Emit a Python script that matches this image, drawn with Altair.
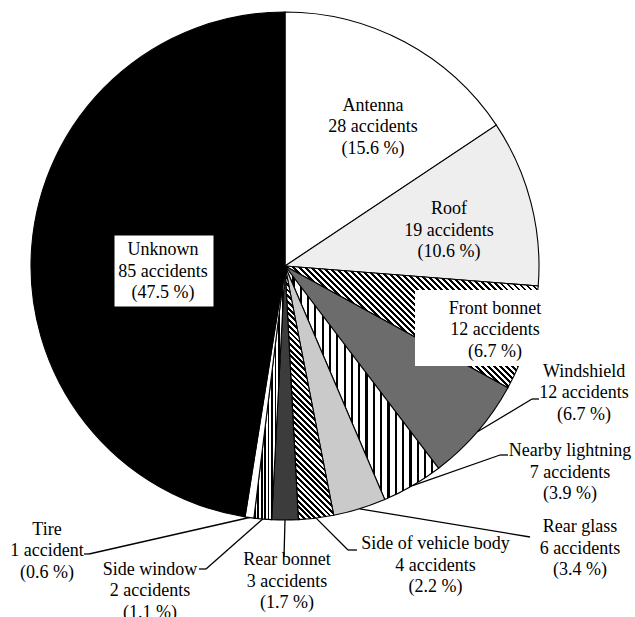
import math
import altair as alt
import pandas as pd

# ---------------- data ----------------
names = ["Antenna", "Roof", "Front bonnet", "Windshield", "Nearby lightning",
         "Rear glass", "Side of vehicle body", "Rear bonnet", "Side window",
         "Tire", "Unknown"]
counts = [28, 19, 12, 12, 7, 6, 4, 3, 2, 1, 85]

# ---------------- layout (annotation positions, px) ----------------
W, H = 635, 617
CX, CY, R = 285, 266, 254
LINE_H = 21.5
label_x = [373, 449, 495, 584, 570, 580, 435.5, 287, 150, 47, 163]
label_y = [105.5, 209, 308.5, 371.5, 451, 527, 544, 560, 569.5, 529.5, 250]  # first line
elbow_x = [None, None, None, 532, 500, 530, 348, 284, 206, 89, None]
elbow_y = [None, None, None, 399, 455, 537, 550, 557, 569, 554, None]
tick_x = [None, None, None, 539, 508, None, 357, None, 199, 84, None]
box_x0 = [None, None, 415, None, None, None, None, None, None, None, 114]
box_x1 = [None, None, 541, None, None, None, None, None, None, None, 214]
box_y0 = [None, None, 290, None, None, None, None, None, None, None, 235]
box_y1 = [None, None, 366, None, None, None, None, None, None, None, 307]

total = sum(counts)
labels = []
for n, c in zip(names, counts):
    unit = "accident" if c == 1 else "accidents"
    labels.append(f"{n}\n{c} {unit}\n({100 * c / total:.1f} %)")

df = pd.DataFrame({
    "idx": list(range(len(names))), "name": names, "count": counts,
    "label": labels, "lx": label_x, "ly": label_y,
    "ex": elbow_x, "ey": elbow_y, "tx": tick_x,
    "bx0": box_x0, "bx1": box_x1, "by0": box_y0, "by1": box_y1,
})


# ---------------- fill styles (stripe gradients) ----------------
def stripes(a0, a1, normal, period, duty, ink="black", paper="white"):
    pts = [(CX, CY)]
    for i in range(121):
        a = a0 + (a1 - a0) * i / 120
        pts.append((CX + R * math.sin(a), CY - R * math.cos(a)))
    xs_ = [p[0] for p in pts]
    ys_ = [p[1] for p in pts]
    x0, y0 = min(xs_), min(ys_)
    w = max(max(xs_) - x0, 1e-6)
    h = max(max(ys_) - y0, 1e-6)
    nx, ny = normal
    L = math.hypot(nx, ny)
    nx, ny = nx / L, ny / L
    fs = [nx * x + ny * y for x, y in pts]
    fmin, fmax = min(fs), max(fs)
    f0 = nx * x0 + ny * y0
    G = (nx * w, ny * h)
    G2 = G[0] ** 2 + G[1] ** 2
    lam = (fmin - f0) / G2
    k = (fmax - fmin) / G2
    p1 = (lam * G[0], lam * G[1])
    p2 = (p1[0] + k * G[0], p1[1] + k * G[1])
    n = max(1, round((fmax - fmin) / period))
    stops = []
    for i in range(n):
        a, b, c = i / n, (i + duty) / n, (i + 1) / n
        stops += [{"offset": round(a, 5), "color": ink},
                  {"offset": round(b, 5), "color": ink},
                  {"offset": round(b, 5), "color": paper},
                  {"offset": round(c, 5), "color": paper}]
    return {"gradient": "linear", "x1": round(p1[0], 5), "y1": round(p1[1], 5),
            "x2": round(p2[0], 5), "y2": round(p2[1], 5), "stops": stops}


angles = {}
cum = 0
for n, c in zip(names, counts):
    angles[n] = (2 * math.pi * cum / total, 2 * math.pi * (cum + c) / total)
    cum += c

fills = {
    "Antenna": "white",
    "Roof": "#eeeeee",
    "Front bonnet": stripes(*angles["Front bonnet"], (1, -1), 4.2, 0.45),
    "Windshield": "#6c6c6c",
    "Nearby lightning": stripes(*angles["Nearby lightning"], (1, 0), 7.2, 0.3),
    "Rear glass": "#cacaca",
    "Side of vehicle body": stripes(*angles["Side of vehicle body"], (1, -1), 4.0, 0.5),
    "Rear bonnet": "#3c3c3c",
    "Side window": stripes(*angles["Side window"], (1, 0), 3.3, 0.5),
    "Tire": "white",
}
conds = [{"test": f"datum.name === '{k}'", "value": v} for k, v in fills.items()]

xs = alt.Scale(domain=[0, W], range=[0, W], nice=False, zero=False)
ys = alt.Scale(domain=[0, H], range=[0, H], nice=False, zero=False)

base = alt.Chart(df).transform_joinaggregate(
    total="sum(count)"
).transform_window(
    cum="sum(count)", sort=[alt.SortField("idx")], frame=[None, 0]
).transform_calculate(
    start="(datum.cum - datum.count) / datum.total",
    end="datum.cum / datum.total",
    mid="(datum.cum - datum.count / 2) / datum.total",
)

arcs = base.mark_arc(radius=R, stroke="black", strokeWidth=1.1).encode(
    theta=alt.Theta("start:Q", stack=None,
                    scale=alt.Scale(domain=[0, 1], range=[0, 2 * math.pi])),
    theta2="end:Q",
    x=alt.value(CX),
    y=alt.value(CY),
    fill=alt.FillValue("black", condition=conds),
)

leaders = base.transform_filter("isValid(datum.ex)").transform_calculate(
    px=f"{CX} + {R} * sin(2 * PI * datum.mid)",
    py=f"{CY} - {R} * cos(2 * PI * datum.mid)",
).mark_rule(color="black", strokeWidth=1.3).encode(
    x=alt.X("px:Q", scale=xs, axis=None),
    y=alt.Y("py:Q", scale=ys, axis=None),
    x2="ex:Q",
    y2="ey:Q",
)

ticks = base.transform_filter("isValid(datum.tx)").mark_rule(
    color="black", strokeWidth=1.3
).encode(
    x=alt.X("ex:Q", scale=xs, axis=None),
    x2="tx:Q",
    y=alt.Y("ey:Q", scale=ys, axis=None),
)

boxes = base.transform_filter("isValid(datum.bx0)").mark_rect(fill="white").encode(
    x=alt.X("bx0:Q", scale=xs, axis=None),
    x2="bx1:Q",
    y=alt.Y("by0:Q", scale=ys, axis=None),
    y2="by1:Q",
    stroke=alt.condition("datum.name === 'Unknown'", alt.value("black"), alt.value(None)),
    strokeWidth=alt.value(1),
)

texts = base.mark_text(
    font="Liberation Serif", fontSize=18, lineBreak="\n", lineHeight=LINE_H,
    align="center", baseline="middle", color="black",
).encode(
    x=alt.X("lx:Q", scale=xs, axis=None),
    y=alt.Y("ly:Q", scale=ys, axis=None),
    text="label:N",
)

chart = alt.layer(arcs, leaders, ticks, boxes, texts).properties(
    width=W, height=H, padding=0, autosize=alt.AutoSizeParams(type="none"),
    background="white",
).configure_view(stroke=None)

chart.save("out.html", embed_options={"renderer": "svg", "actions": False})
